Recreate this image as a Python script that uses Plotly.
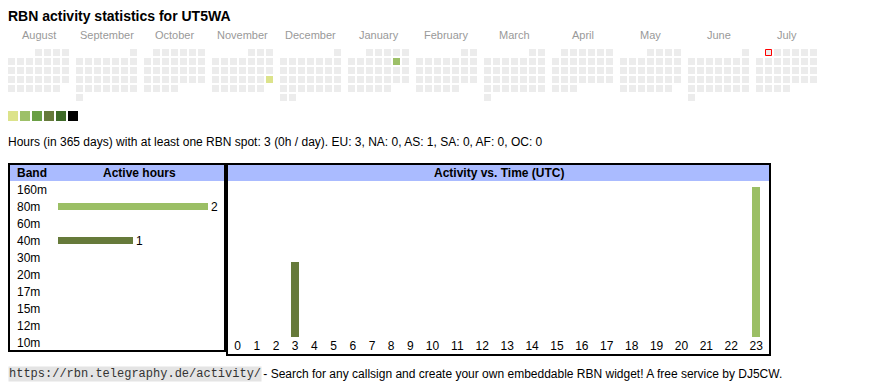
import datetime as dt
import plotly.graph_objects as go

# page body has an 8px margin: the figure is drawn at (8, 8) in the window
OX, OY = 8, 8
W, H = 870 - OX, 390 - OY

# ---------------- data ----------------
title_text = "RBN activity statistics for UT5WA"
months = ["August", "September", "October", "November", "December", "January",
          "February", "March", "April", "May", "June", "July"]
start_date = "2024-08-01"
end_date = "2025-07-31"
today_date = "2025-07-01"
active_dates = ["2024-11-24", "2025-01-11"]
active_hours = [1, 2]
level_colors = ["#dce38b", "#9dc068", "#6a9f45", "#667a3b", "#3e6a28", "#000000"]
stats_text = ("Hours (in 365 days) with at least one RBN spot: 3 (0h / day). "
              "EU: 3, NA: 0, AS: 1, SA: 0, AF: 0, OC: 0")

bands = ["160m", "80m", "60m", "40m", "30m", "20m", "17m", "15m", "12m", "10m"]
band_hours = [0, 2, 0, 1, 0, 0, 0, 0, 0, 0]
band_colors = ["#c9d98a", "#9bbf65", "#7fa850", "#667a3a", "#4f7a30",
               "#3e6a28", "#2f5a20", "#244a18", "#1a3a10", "#102a08"]

hour_labels = ["0", "1", "2", "3", "4", "5", "6", "7", "8", "9", "10", "11",
               "12", "13", "14", "15", "16", "17", "18", "19", "20", "21", "22", "23"]
hours_80m = [0, 0, 0, 0, 0, 0, 0, 0, 0, 0, 0, 0, 0, 0, 0, 0, 0, 0, 0, 0, 0, 0, 0, 2]
hours_40m = [0, 0, 0, 1, 0, 0, 0, 0, 0, 0, 0, 0, 0, 0, 0, 0, 0, 0, 0, 0, 0, 0, 0, 0]

footer_link = "https://rbn.telegraphy.de/activity/"
footer_text = " - Search for any callsign and create your own embeddable RBN widget! A free service by DJ5CW."

# ---------------- style / layout constants ----------------
SANS = "Liberation Sans, Arial, sans-serif"
MONO = "Liberation Mono, Courier New, monospace"
GREY_CELL = "#ececec"
HEADER_BG = "#aabbff"
CELL, PITCH, BLOCK = 7, 9, 68
CAL_X0, CAL_Y0 = 8, 49
TXT = -2  # annotation inner padding compensation


def pxp(x):
    return (x - OX) / W


def pyp(y):
    return 1 - (y - OY) / H


# calendar cells
d0 = dt.date.fromisoformat(start_date)
d1 = dt.date.fromisoformat(end_date)
act = {dt.date.fromisoformat(d): h for d, h in zip(active_dates, active_hours)}
xs, ys, cs = [], [], []
d = d0
while d <= d1:
    m = (d.year - d0.year) * 12 + d.month - d0.month
    first = d.replace(day=1)
    col = d.weekday()
    row = (d.day - 1 + first.weekday()) // 7
    xs.append(CAL_X0 + BLOCK * m + PITCH * col + CELL / 2)
    ys.append(CAL_Y0 + PITCH * row + CELL / 2)
    h = act.get(d, 0)
    cs.append(level_colors[min(h, len(level_colors)) - 1] if h else GREY_CELL)
    d += dt.timedelta(days=1)

td = dt.date.fromisoformat(today_date)
t_m = (td.year - d0.year) * 12 + td.month - d0.month
t_row = (td.day - 1 + td.replace(day=1).weekday()) // 7
t_x = CAL_X0 + BLOCK * t_m + PITCH * td.weekday() + CELL / 2
t_y = CAL_Y0 + PITCH * t_row + CELL / 2

fig = go.Figure()
fig.add_trace(go.Scatter(x=xs, y=ys, mode="markers", xaxis="x", yaxis="y",
                         marker=dict(symbol="square", size=CELL, color=cs, line=dict(width=0)),
                         hoverinfo="skip"))
fig.add_trace(go.Scatter(x=[t_x], y=[t_y], mode="markers", xaxis="x", yaxis="y",
                         marker=dict(symbol="square-open", size=CELL - 1, color="#ff0000",
                                     line=dict(width=1, color="#ff0000")),
                         hoverinfo="skip"))
# colour legend
fig.add_trace(go.Scatter(x=[13 + 12 * i for i in range(len(level_colors))],
                         y=[116] * len(level_colors), mode="markers", xaxis="x", yaxis="y",
                         marker=dict(symbol="square", size=10, color=level_colors, line=dict(width=0)),
                         hoverinfo="skip"))

# band bars
fig.add_trace(go.Bar(y=bands, x=band_hours, orientation="h", xaxis="x2", yaxis="y2",
                     width=0.41, marker=dict(color=band_colors, line=dict(width=0)),
                     text=[str(v) if v else "" for v in band_hours], textposition="outside",
                     constraintext="none", cliponaxis=False,
                     textfont=dict(family=SANS, size=12, color="#000"), hoverinfo="skip"))

# hour bars
col_w = [19.2 if len(l) == 1 else 24.9 for l in hour_labels]
centers = []
acc = 228
for w in col_w:
    centers.append(acc + w / 2)
    acc += w
fig.add_trace(go.Bar(x=centers, y=hours_40m, width=8, xaxis="x3", yaxis="y3",
                     marker=dict(color="#667a3a", line=dict(width=0)), hoverinfo="skip"))
fig.add_trace(go.Bar(x=centers, y=hours_80m, width=8, xaxis="x3", yaxis="y3",
                     marker=dict(color="#9bbf65", line=dict(width=0)), hoverinfo="skip"))


def label(text, x, y, anchor="left", size=12, color="#000", family=SANS, **kw):
    return dict(text=text, x=pxp(x), y=pyp(y), xref="paper", yref="paper",
                xanchor=anchor, yanchor="middle", showarrow=False,
                font=dict(family=family, size=size, color=color), **kw)


ann = []
ann.append(label("<b>" + title_text + "</b>", 8 + TXT, 16, size=14))
for i, mname in enumerate(months):
    ann.append(label(mname, CAL_X0 + BLOCK * i + (7 * PITCH - 2) / 2, 35, anchor="center",
                     size=11, color="#999999"))
ann.append(label(stats_text, 8 + TXT, 142))
ann.append(label("<b>Band</b>", 17 + TXT, 173))
ann.append(label("<b>Active hours</b>", 139, 173, anchor="center"))
ann.append(label("<b>Activity vs. Time (UTC)</b>", 498.5, 173, anchor="center"))
for b in bands:
    ann.append(dict(text=b, x=pxp(17 + TXT), y=b, xref="paper", yref="y2", xanchor="left",
                    yanchor="middle", showarrow=False, font=dict(family=SANS, size=12, color="#000")))
ann.append(label(footer_link, 8, 374, family=MONO, color="#333333", bgcolor="#e4e4e4", borderpad=0))
ann.append(label(footer_text, 258, 374))

shapes = [
    dict(type="rect", xref="x", yref="y", x0=10, x1=224, y0=165, y1=181, fillcolor=HEADER_BG,
         line=dict(width=0), layer="below"),
    dict(type="rect", xref="x", yref="y", x0=228, x1=769, y0=165, y1=181, fillcolor=HEADER_BG,
         line=dict(width=0), layer="below"),
    dict(type="rect", xref="x", yref="y", x0=9, x1=225, y0=164, y1=351,
         line=dict(width=2, color="#000"), fillcolor="rgba(0,0,0,0)"),
    dict(type="rect", xref="x", yref="y", x0=227, x1=770, y0=164, y1=355,
         line=dict(width=2, color="#000"), fillcolor="rgba(0,0,0,0)"),
]

hidden = dict(visible=False, showgrid=False, zeroline=False, fixedrange=True)
fig.update_layout(
    width=W, height=H, margin=dict(l=0, r=0, t=0, b=0),
    paper_bgcolor="white", plot_bgcolor="rgba(0,0,0,0)",
    showlegend=False, hovermode=False, barmode="stack",
    font=dict(family=SANS, size=12, color="#000"),
    xaxis=dict(domain=[0, 1], range=[OX, OX + W], anchor="y", **hidden),
    yaxis=dict(domain=[0, 1], range=[OY + H, OY], anchor="x", **hidden),
    xaxis2=dict(domain=[pxp(58), pxp(208)], range=[0, 2], anchor="y2", **hidden),
    yaxis2=dict(domain=[pyp(351), pyp(181)], type="category", categoryorder="array",
                categoryarray=bands, range=[len(bands) - 0.5, -0.5], anchor="x2", **hidden),
    xaxis3=dict(domain=[pxp(228), pxp(769)], range=[228, 769], anchor="y3",
                tickmode="array", tickvals=centers, ticktext=hour_labels, ticks="",
                showgrid=False, zeroline=False, showline=False, fixedrange=True,
                tickfont=dict(family=SANS, size=12, color="#000")),
    yaxis3=dict(domain=[pyp(337), pyp(187)], range=[0, 2], anchor="x3", **hidden),
    annotations=ann, shapes=shapes,
)

fig.write_html("out.html", config={"displayModeBar": False, "staticPlot": True})
